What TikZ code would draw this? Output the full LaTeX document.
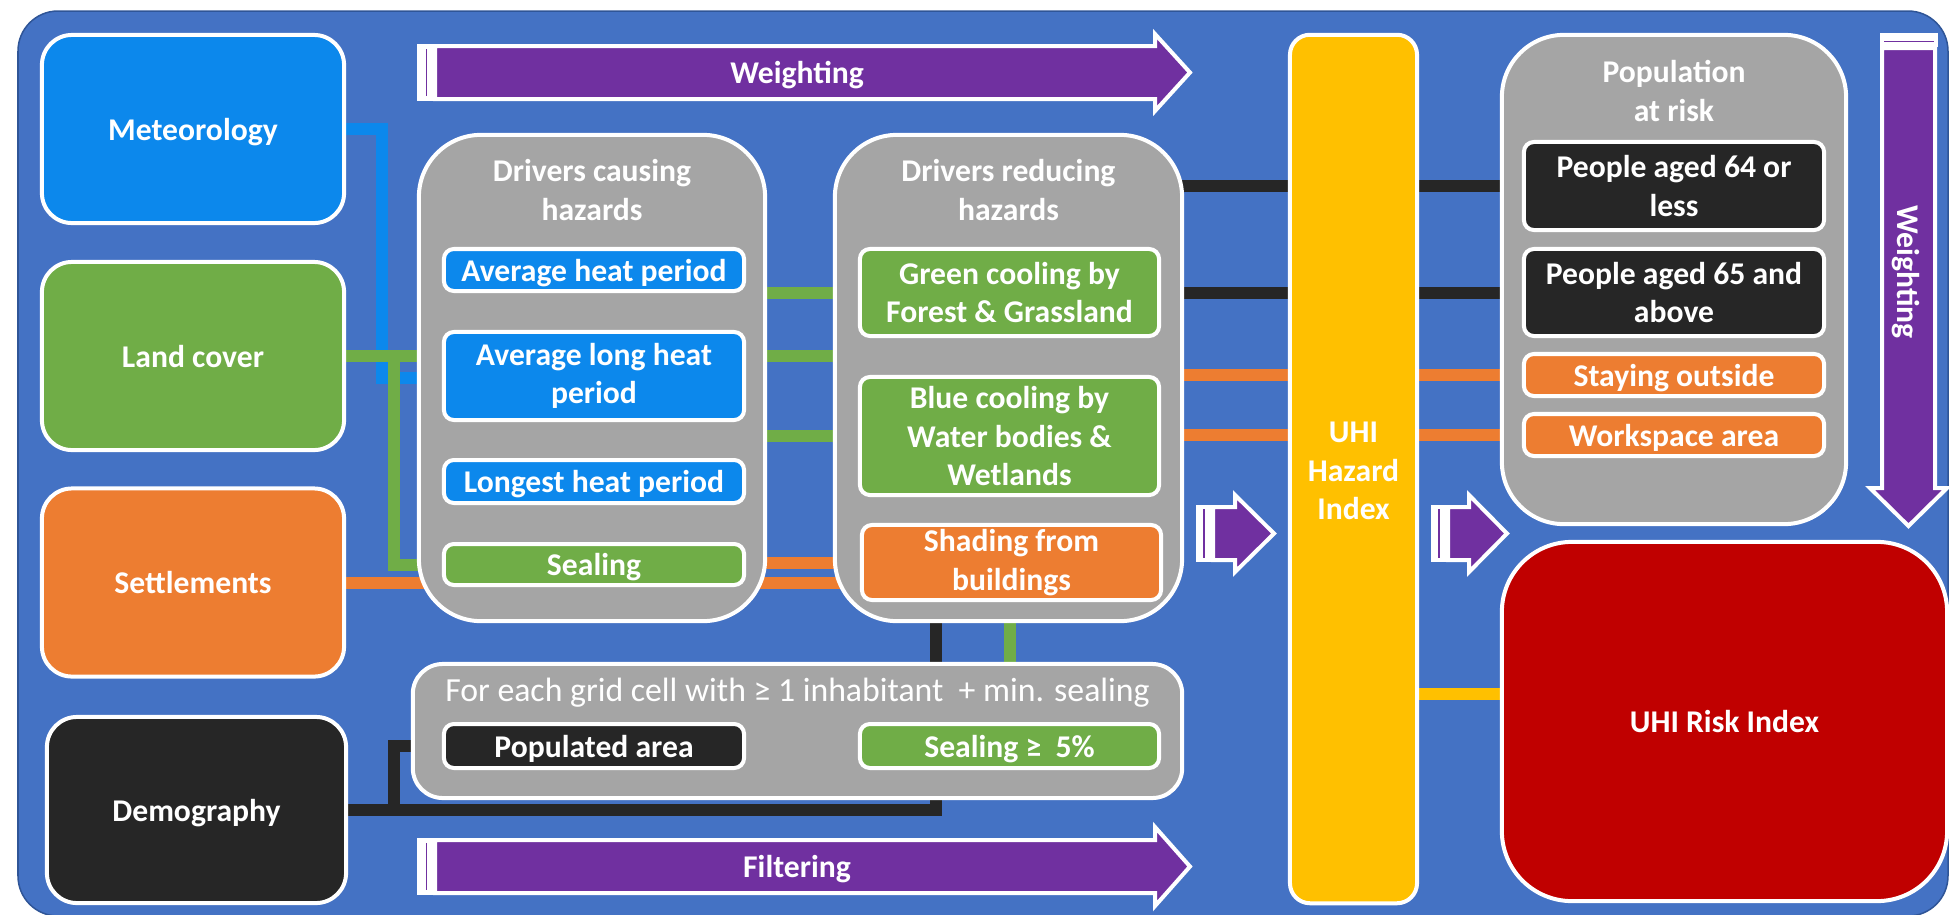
\documentclass[tikz,border=0pt]{standalone}
\usepackage{fontspec}
\setmainfont{Carlito}
\definecolor{bg}{HTML}{4472C4}
\definecolor{bgline}{HTML}{2F5597}
\definecolor{cblue}{HTML}{0C88EC}
\definecolor{cgreen}{HTML}{70AD47}
\definecolor{corange}{HTML}{ED7D31}
\definecolor{cblack}{HTML}{262626}
\definecolor{cgray}{HTML}{A5A5A5}
\definecolor{cpurple}{HTML}{7030A0}
\definecolor{cyellow}{HTML}{FFC000}
\definecolor{cred}{HTML}{C00000}
\pgfdeclarelayer{bglayer}
\pgfdeclarelayer{linelayer}
\pgfsetlayers{bglayer,linelayer,main}
\tikzset{
  txt/.style={text=white, align=center, inner sep=0pt, font=\bfseries\fontsize{9}{11}\selectfont},
  one/.style={text height=6.3pt, text depth=0pt},
  wbox/.style={txt, draw=white, line width=0.04cm},
  big/.style={wbox, one, rounded corners=0.3cm, minimum width=3.02cm, minimum height=1.88cm},
  panel/.style={wbox, fill=cgray, rounded corners=0.62cm},
  item/.style={wbox, rounded corners=0.1cm},
  conn/.style={line width=0.12cm},
  abody/.style={fill=cpurple, draw=white, line width=0.04cm, line join=miter},
  sline/.style={draw=cpurple, line width=0.015cm},
}
\begin{document}
\begin{tikzpicture}[x=0.01cm,y=-0.01cm]
\useasboundingbox (0,0) rectangle (1950,914);
\begin{pgfonlayer}{bglayer}
\draw[fill=bg, draw=bgline, line width=0.015cm, rounded corners=0.4cm] (18,11) rectangle (1948,916);
\end{pgfonlayer}

% left column
\node[big, fill=cblue] (met) at (193,129) {Meteorology};
\node[big, fill=cgreen] (land) at (193,356) {Land cover};
\node[big, fill=corange] (sett) at (193,582.5) {Settlements};
\node[big, fill=cblack, minimum width=2.99cm, minimum height=1.86cm] (demo) at (196.5,810) {Demography};

% drivers panels
\node[panel, minimum width=3.46cm, minimum height=4.86cm] (cause) at (592,378) {};
\node[panel, minimum width=3.47cm, minimum height=4.86cm] (reduce) at (1008.5,378) {};
\node[txt] (causeT) at (592,190) {Drivers causing\\hazards};
\node[txt] (reduceT) at (1008.5,190) {Drivers reducing\\hazards};

\node[item, one, fill=cblue, minimum width=3.00cm, minimum height=0.42cm] (ahp) at (594,270) {Average heat period};
\node[item, fill=cblue, minimum width=3.00cm, minimum height=0.88cm] (alhp) at (594,376) {Average long heat\\period};
\node[item, one, fill=cblue, minimum width=3.00cm, minimum height=0.43cm] (lhp) at (594,481.5) {Longest heat period};
\node[item, one, fill=cgreen, minimum width=3.00cm, minimum height=0.41cm] (seal) at (594,564.5) {Sealing};

\node[item, fill=cgreen, minimum width=2.99cm, minimum height=0.87cm] (gc) at (1009.5,292.5) {Green cooling by\\Forest \& Grassland};
\node[item, fill=cgreen, minimum width=2.99cm, minimum height=1.18cm] (bc) at (1009.5,436) {Blue cooling by\\Water bodies \&\\Wetlands};
\node[item, fill=corange, minimum width=2.99cm, minimum height=0.75cm] (shade) at (1011.5,562.5) {Shading from\\buildings};

% grid panel
\node[wbox, fill=cgray, rounded corners=0.3cm, minimum width=7.69cm, minimum height=1.34cm] (grid) at (797.5,731) {};
\node[txt, font=\fontsize{9.6}{11}\selectfont, text height=6.7pt, text depth=0pt] (gridT) at (797.5,690) {For each grid cell with ≥ 1 inhabitant\ \ + min. sealing};
\node[item, one, fill=cblack, minimum width=3.00cm, minimum height=0.44cm] (pop) at (594,746) {Populated area};
\node[item, one, fill=cgreen, minimum width=2.99cm, minimum height=0.44cm] (seal5) at (1009.5,746) {Sealing ≥\ \ 5\%};

% UHI hazard
\node[wbox, fill=cyellow, rounded corners=0.2cm, minimum width=1.27cm, minimum height=8.68cm] (uhi) at (1353.5,469) {};
\node[txt] (uhiT) at (1353.5,471) {UHI\\Hazard\\Index};

% population panel
\node[panel, minimum width=3.44cm, minimum height=4.89cm] (popr) at (1674,279.5) {};
\node[txt] (poprT) at (1674,91) {Population\\at risk};
\node[item, fill=cblack, minimum width=3.00cm, minimum height=0.88cm] (p64) at (1674,186) {People aged 64 or\\less};
\node[item, fill=cblack, minimum width=3.00cm, minimum height=0.87cm] (p65) at (1674,292.5) {People aged 65 and\\above};
\node[item, one, fill=corange, minimum width=3.00cm, minimum height=0.42cm] (out) at (1674,375) {Staying outside};
\node[item, one, fill=corange, minimum width=3.00cm, minimum height=0.42cm] (work) at (1674,435) {Workspace area};

% risk
\node[wbox, one, fill=cred, rounded corners=0.7cm, minimum width=4.45cm, minimum height=3.59cm] (risk) at (1724.5,721.5) {UHI Risk Index};

% connectors
\coordinate (bj) at (382,378);
\coordinate (gj) at (394,356);
\coordinate (dk) at (936,809);
\coordinate (dj) at (394,809);
\coordinate (yl) at (1400,694);
\begin{pgfonlayer}{linelayer}
\draw[conn, cblue] (met.east) -| (bj) -- (cause.center |- bj);
\draw[conn, cgreen] (land.east) -- (reduce.center |- land.east);
\draw[conn, cgreen] (gj) |- (seal.center);
\draw[conn, corange] (sett.east) -- (reduce.center |- sett.east);
\draw[conn, corange] (cause.center |- shade) -- (shade.center);
\draw[conn, cgreen] (cause.center |- gc) -- (gc.center);
\draw[conn, cgreen] (cause.center |- bc) -- (bc.center);
\draw[conn, cblack] (reduce.center |- p64) -- (p64.center);
\draw[conn, cblack] (reduce.center |- p65) -- (p65.center);
\draw[conn, corange] (reduce.center |- out) -- (out.center);
\draw[conn, corange] (reduce.center |- work) -- (work.center);
\draw[conn, cyellow] (uhi.center |- yl) -- (risk.center |- yl);
\draw[conn, cblack] (demo.east) -| (reduce.center -| dk);
\draw[conn, cblack] (dj) |- (pop.center);
\draw[conn, cgreen] (seal5.center) -- (reduce.center -| seal5);
\end{pgfonlayer}

% weighting arrow (top)
\fill[white] (417,44) rectangle (433,101);
\draw[sline] (426.5,49) -- (426.5,96);
\draw[abody] (435,46) -- (1155,46) -- (1155,34) -- (1190,72.5) -- (1155,111) -- (1155,99) -- (435,99) -- cycle;
\node[txt, one] (wTop) at (797,72.5) {Weighting};

% filtering arrow
\fill[white] (417,838) rectangle (433,895);
\draw[sline] (426.5,843) -- (426.5,890);
\draw[abody] (435,840) -- (1155,840) -- (1155,827) -- (1190,866.5) -- (1155,906) -- (1155,893) -- (435,893) -- cycle;
\node[txt, one] (fT) at (797,866.5) {Filtering};

% small arrows
\fill[white] (1196,505) rectangle (1212,562);
\draw[sline] (1204,509) -- (1204,558);
\draw[abody] (1213,507) -- (1235,507) -- (1235,495) -- (1274,533.5) -- (1235,572) -- (1235,560) -- (1213,560) -- cycle;
\fill[white] (1431,505) rectangle (1447,562);
\draw[sline] (1439,509) -- (1439,558);
\draw[abody] (1448,507) -- (1469,507) -- (1469,495) -- (1507,533.5) -- (1469,572) -- (1469,560) -- (1448,560) -- cycle;

% vertical weighting arrow
\fill[white] (1880,33) rectangle (1938,47);
\draw[sline] (1884,41.5) -- (1934,41.5);
\draw[abody] (1882,48) -- (1882,488) -- (1870,488) -- (1908.5,526) -- (1947,488) -- (1935,488) -- (1935,48) -- cycle;
\node[txt, one, rotate=-90] (wV) at (1908.5,272) {Weighting};
\end{tikzpicture}
\end{document}
